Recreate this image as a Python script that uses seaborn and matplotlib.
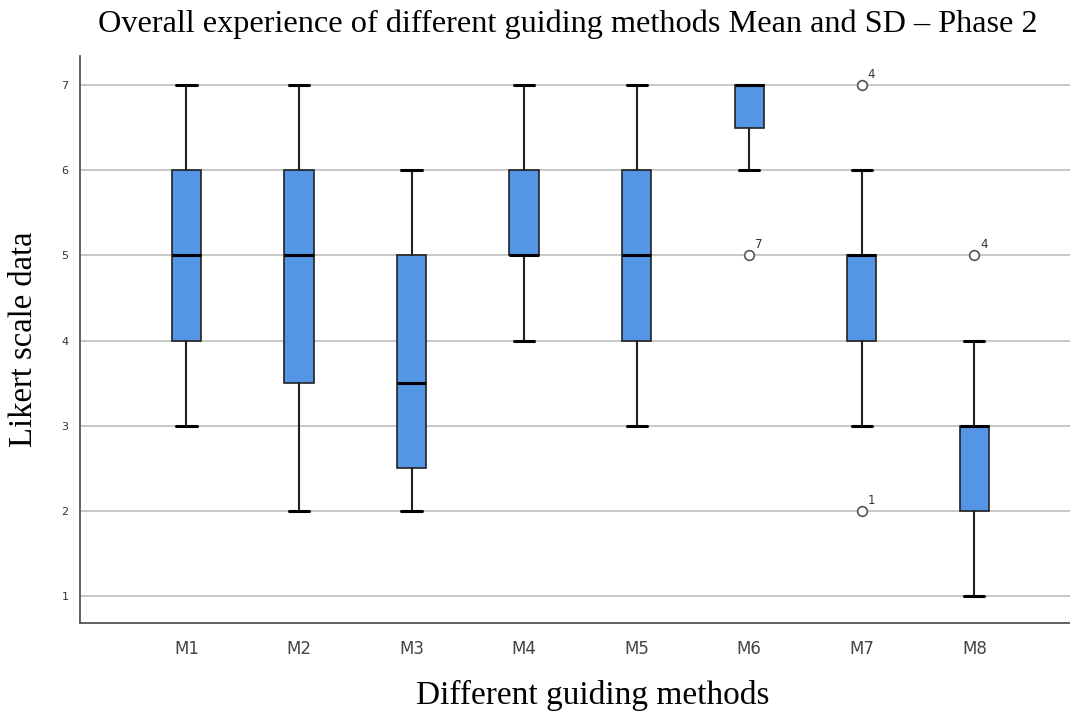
import matplotlib
matplotlib.use("Agg")
import matplotlib.pyplot as plt
import seaborn as sns

methods = ["M1", "M2", "M3", "M4", "M5", "M6", "M7", "M8"]
whisker_low = [3, 2, 2, 4, 3, 6, 3, 1]
q1 = [4, 3.5, 2.5, 5, 4, 6.5, 4, 2]
median = [5, 5, 3.5, 5, 5, 7, 5, 3]
q3 = [6, 6, 5, 6, 6, 7, 5, 3]
whisker_high = [7, 7, 6, 7, 7, 7, 6, 4]
outliers = [[], [], [], [], [], [5], [7, 2], [5]]
outlier_ids = [[], [], [], [], [], ["7"], ["4", "1"], ["4"]]
yticks = [1, 2, 3, 4, 5, 6, 7]

sns.set_theme(style="whitegrid")
plt.rcParams["font.family"] = ["DejaVu Sans"]

fig = plt.figure(figsize=(10.70, 7.15), dpi=100)
ax = fig.add_axes([0.0743, 0.1287, 0.9257, 0.793])

stats = []
for i, m in enumerate(methods):
    stats.append(dict(label=m, whislo=whisker_low[i], q1=q1[i], med=median[i],
                      q3=q3[i], whishi=whisker_high[i], fliers=outliers[i]))

box_color = "#5595e5"
ax.bxp(stats, positions=range(len(methods)), widths=0.26, patch_artist=True,
       boxprops=dict(facecolor=box_color, edgecolor="#222222", linewidth=1.2),
       medianprops=dict(color="black", linewidth=2.2),
       whiskerprops=dict(color="#222222", linewidth=1.5),
       capprops=dict(color="black", linewidth=2.2),
       capwidths=0.18,
       flierprops=dict(marker="o", markerfacecolor="white", markeredgecolor="#555555",
                       markersize=7, markeredgewidth=1.2),
       zorder=3)

for i, (vals, ids) in enumerate(zip(outliers, outlier_ids)):
    for v, t in zip(vals, ids):
        ax.annotate(t, (i, v), xytext=(4, 3), textcoords="offset points",
                    fontsize=8.5, color="#333333", ha="left", va="bottom")

ax.set_xlim(-0.95, 7.85)
ax.set_ylim(0.685, 7.34)
ax.set_yticks(yticks)
ax.set_yticklabels([str(t) for t in yticks], fontsize=8, color="#333333")
ax.set_xticks(range(len(methods)))
ax.set_xticklabels(methods, fontsize=12, color="#444444")
ax.tick_params(axis="both", length=0, pad=8)
ax.tick_params(axis="x", pad=12)

ax.grid(axis="x", visible=False)
ax.grid(axis="y", color="#c8c8c8", linewidth=1.4)
ax.set_axisbelow(True)
ax.set_facecolor("white")
for s in ["top", "right"]:
    ax.spines[s].set_visible(False)
for s in ["left", "bottom"]:
    ax.spines[s].set_visible(True)
    ax.spines[s].set_color("#555555")
    ax.spines[s].set_linewidth(1.3)

serif = ["Liberation Serif", "DejaVu Serif"]
fig.text(0.531, 0.966, "Overall experience of different guiding methods Mean and SD \u2013 Phase 2",
         ha="center", va="center", fontsize=23.2, family=serif, color="black")
ax.set_ylabel("Likert scale data", fontsize=23.5, family=serif, labelpad=16, color="black")
ax.set_xlabel("Different guiding methods", fontsize=24, family=serif, color="black")
ax.xaxis.label.set_va("center")
ax.xaxis.set_label_coords(0.518, -0.127)

fig.savefig("out.png", dpi=100)
